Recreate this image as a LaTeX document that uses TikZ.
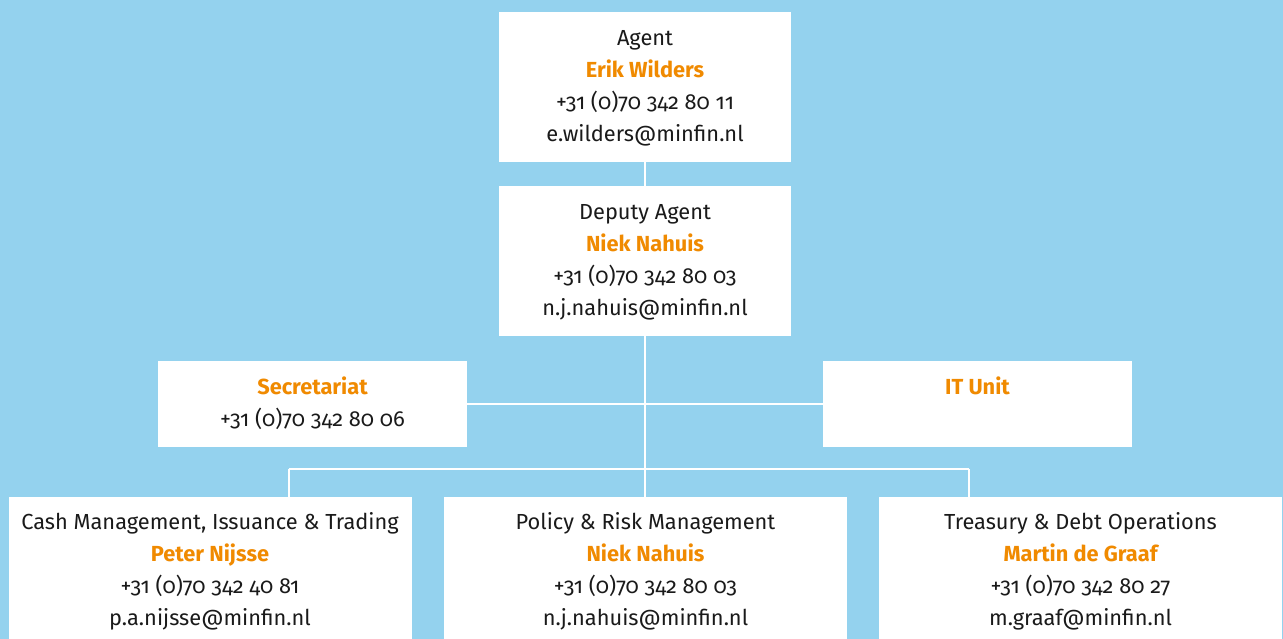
\documentclass[tikz,border=0pt]{standalone}
\usepackage{fontspec}
\setmainfont{Fira Sans}[Numbers=OldStyle]
\usetikzlibrary{positioning}
\definecolor{bgblue}{RGB}{148,210,238}
\definecolor{rorange}{RGB}{240,138,0}
\definecolor{txt}{RGB}{26,26,26}
\newcommand{\nm}[1]{\textcolor{rorange}{\bfseries #1}}
\begin{document}
\begin{tikzpicture}[x=1pt,y=-1pt,
  box/.style={fill=white,draw=none,inner sep=0pt,align=center,text=txt,
    font=\fontsize{21.8}{32}\selectfont},
  link/.style={draw=white,line width=2pt}]
\useasboundingbox[fill=bgblue] (0,0) rectangle (1283,639);
% boxes
\node[box,minimum width=292pt,minimum height=150pt] (agent) at (645,87)
  {\strut Agent\\\strut\nm{Erik Wilders}\\\strut +31 (0)70 342 80 11\\\strut e.wilders@minfin.nl};
\node[box,minimum width=292pt,minimum height=150pt] (deputy) at (645,261)
  {\strut Deputy Agent\\\strut\nm{Niek Nahuis}\\\strut +31 (0)70 342 80 03\\\strut n.j.nahuis@minfin.nl};
\node[box,minimum width=309pt,minimum height=86pt] (secr) at (312.5,404)
  {\strut\nm{Secretariat}\\\strut +31 (0)70 342 80 06};
\node[box,minimum width=309pt,minimum height=86pt] (it) at (977.5,404)
  {\strut\nm{IT Unit}\\\strut};
\node[box,minimum width=403pt,minimum height=148pt] (cash) at (210,571)
  {\strut Cash Management, Issuance \& Trading\\\strut\nm{Peter Nijsse}\\\strut +31 (0)70 342 40 81\\\strut p.a.nijsse@minfin.nl};
\node[box,minimum width=403pt,minimum height=148pt] (policy) at (645.5,571)
  {\strut Policy \& Risk Management\\\strut\nm{Niek Nahuis}\\\strut +31 (0)70 342 80 03\\\strut n.j.nahuis@minfin.nl};
\node[box,minimum width=403pt,minimum height=148pt] (treas) at (1080.5,571)
  {\strut Treasury \& Debt Operations\\\strut\nm{Martin de Graaf}\\\strut +31 (0)70 342 80 27\\\strut m.graaf@minfin.nl};
% connectors
\coordinate (busL) at (289,469);
\coordinate (busM) at (645,469);
\coordinate (busR) at (969,469);
\draw[link] (agent.south) -- (deputy.north);
\draw[link] (deputy.south) -- (busM);
\draw[link] (secr.east) -- (it.west);
\draw[link] (busL) -- (busR);
\draw[link] (busL) -- (busL |- cash.north);
\draw[link] (busM) -- (busM |- policy.north);
\draw[link] (busR) -- (busR |- treas.north);
\end{tikzpicture}
\end{document}
